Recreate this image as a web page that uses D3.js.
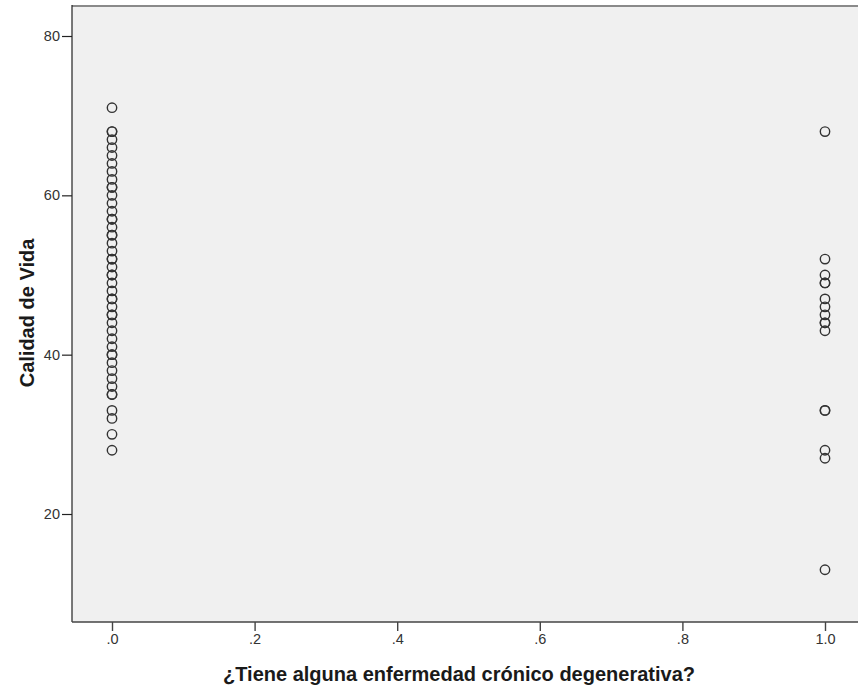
<!DOCTYPE html>
<html>
<head>
<meta charset="utf-8">
<script src="https://cdn.jsdelivr.net/npm/d3@7"></script>
<style>
  body { margin: 0; background: #fff; }
  svg { display: block; font-family: "Liberation Sans", Arial, sans-serif; }
</style>
</head>
<body>
<svg id="chart" width="858" height="692"></svg>
<script>
// Calidad de Vida scores for people without (0) and with (1) a chronic degenerative disease
const groupNo = [71, 68, 68, 67, 66, 65, 64, 63, 62, 61, 61, 60, 59, 58, 57, 57, 56, 55, 55, 54, 53, 52, 52, 51,
  50, 50, 49, 48, 47, 47, 46, 45, 45, 44, 43, 42, 41, 40, 40, 39, 38, 37, 36, 35, 35, 33, 32, 30, 28];
const groupYes = [68, 52, 50, 49, 49, 47, 46, 45, 44, 44, 43, 33, 33, 28, 27, 13];
const xTicks = [0, 0.2, 0.4, 0.6, 0.8, 1.0];
const yTicks = [20, 40, 60, 80];
const xTitle = "¿Tiene alguna enfermedad crónico degenerativa?";
const yTitle = "Calidad de Vida";

const points = groupNo.map(v => ({ x: 0, y: v })).concat(groupYes.map(v => ({ x: 1, y: v })));

const svg = d3.select("#chart");
const plotLeft = 72, plotTop = 6, plotBottom = 622, plotRight = 880;
const fontFamily = "'Liberation Sans', Arial, sans-serif";

const x = d3.scaleLinear().domain([0, 1]).range([112, 825]);
const y = d3.scaleLinear().domain([20, 80]).range([514, 36]);

// plot background and frame
svg.append("rect")
  .attr("x", plotLeft).attr("y", plotTop)
  .attr("width", plotRight - plotLeft).attr("height", plotBottom - plotTop)
  .attr("fill", "#f0f0f0");
svg.append("line")
  .attr("x1", plotLeft).attr("x2", plotRight).attr("y1", plotTop).attr("y2", plotTop)
  .attr("stroke", "#8a8a8a").attr("stroke-width", 2);

// y axis
const yAxis = d3.axisLeft(y).tickValues(yTicks).tickSize(10).tickPadding(2).tickFormat(d3.format("d"));
const gy = svg.append("g").attr("transform", `translate(${plotLeft},0)`).call(yAxis);
gy.select(".domain").remove();
gy.selectAll(".tick line").attr("stroke", "#222").attr("stroke-width", 1.2);
gy.selectAll(".tick text").attr("font-size", 14.5).attr("fill", "#333").attr("font-family", fontFamily);
svg.append("line")
  .attr("x1", plotLeft).attr("x2", plotLeft).attr("y1", plotTop - 1).attr("y2", plotBottom)
  .attr("stroke", "#222").attr("stroke-width", 1.2);

// x axis
const xAxis = d3.axisBottom(x).tickValues(xTicks).tickSize(9).tickPadding(3)
  .tickFormat(d => d === 1 ? "1.0" : d3.format(".1f")(d).replace(/^0/, ""));
const gx = svg.append("g").attr("transform", `translate(0,${plotBottom})`).call(xAxis);
gx.select(".domain").remove();
gx.selectAll(".tick line").attr("stroke", "#444").attr("stroke-width", 1.4);
gx.selectAll(".tick text").attr("font-size", 14.5).attr("fill", "#333").attr("font-family", fontFamily);
svg.append("line")
  .attr("x1", plotLeft).attr("x2", plotRight).attr("y1", plotBottom).attr("y2", plotBottom)
  .attr("stroke", "#444").attr("stroke-width", 1.6);

// points
svg.append("g").selectAll("circle")
  .data(points)
  .join("circle")
  .attr("cx", d => x(d.x))
  .attr("cy", d => y(d.y))
  .attr("r", 4.7)
  .attr("fill", "none")
  .attr("stroke", "#333")
  .attr("stroke-width", 1.4);

// axis titles
svg.append("text")
  .attr("x", 459).attr("y", 681)
  .attr("text-anchor", "middle")
  .attr("font-size", 20).attr("font-weight", "bold").attr("fill", "#1a1a1a")
  .attr("font-family", fontFamily)
  .text(xTitle);
svg.append("text")
  .attr("transform", "translate(34,313) rotate(-90)")
  .attr("text-anchor", "middle")
  .attr("font-size", 20).attr("font-weight", "bold").attr("fill", "#1a1a1a")
  .attr("font-family", fontFamily)
  .text(yTitle);
</script>
</body>
</html>
